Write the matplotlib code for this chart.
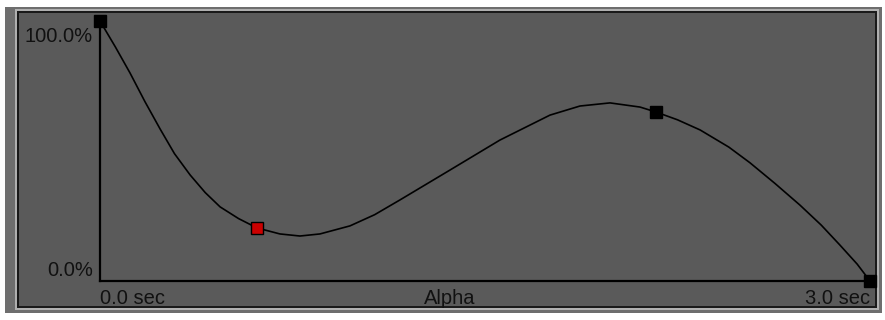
import matplotlib
matplotlib.use('Agg')
import matplotlib.pyplot as plt
from matplotlib.patches import Rectangle

# curve samples (time in sec, value in %)
curve_t = [0.0, 0.06, 0.117, 0.175, 0.234, 0.29, 0.351, 0.41, 0.468, 0.54, 0.612,
           0.701, 0.779, 0.857, 0.974, 1.07, 1.169, 1.364, 1.558, 1.753, 1.870,
           1.987, 2.104, 2.166, 2.25, 2.338, 2.45, 2.532, 2.63, 2.727, 2.81, 2.883, 2.95, 3.0]
curve_v = [100.0, 90.0, 80.0, 69.0, 58.5, 49.0, 40.8, 34.0, 28.5, 24.0, 20.4,
           18.1, 17.3, 18.1, 21.2, 25.5, 31.2, 42.7, 54.2, 63.8, 67.3,
           68.5, 66.9, 65.0, 62.0, 58.1, 51.5, 45.5, 37.5, 29.2, 21.5, 13.8, 6.5, 0.0]

# keyframes
key_t = [0.0, 0.612, 2.166, 3.0]
key_v = [100.0, 20.4, 65.0, 0.0]
key_colors = ['black', '#cc0000', 'black', 'black']

y_labels = ['100.0%', '0.0%']
x_labels = ['0.0 sec', 'Alpha', '3.0 sec']

W, H = 885, 320
fig = plt.figure(figsize=(W / 100, H / 100), dpi=100, facecolor='white')


def px_rect(x0, y0, x1, y1, color):
    fig.patches.append(Rectangle((x0 / W, 1 - y1 / H), (x1 - x0) / W, (y1 - y0) / H,
                                 transform=fig.transFigure, facecolor=color,
                                 edgecolor='none', zorder=-5))


# window frame
px_rect(5, 7, 882, 313, '#6e6e6e')
px_rect(15, 9, 879, 310, '#b0b0b0')
px_rect(17, 11, 877, 308, '#1a1a1a')
px_rect(19, 13, 875, 306, '#5a5a5a')

ax = fig.add_axes([100 / W, 1 - 281 / H, 770 / W, 260 / H])
ax.set_zorder(2)
ax.set_facecolor('none')
ax.set_xlim(0, 3.0)
ax.set_ylim(0, 100)
for s in ['top', 'right']:
    ax.spines[s].set_visible(False)
for s in ['left', 'bottom']:
    ax.spines[s].set_color('black')
    ax.spines[s].set_linewidth(1.6)
ax.set_xticks([])
ax.set_yticks([])

ax.plot(curve_t, curve_v, color='black', lw=1.2, clip_on=False)
for t, v, c in zip(key_t, key_v, key_colors):
    ax.plot(t, v, marker='s', ms=8.5, mfc=c, mec='black', mew=1.0,
            clip_on=False, zorder=5)

fp = dict(family=['Liberation Sans', 'DejaVu Sans'], fontsize=14.5, color='#111111')
fig.text(93 / W, 1 - 36 / H, y_labels[0], ha='right', va='center', **fp)
fig.text(93 / W, 1 - 270 / H, y_labels[1], ha='right', va='center', **fp)
fig.text(100 / W, 1 - 299 / H, x_labels[0], ha='left', va='center', **fp)
fig.text(450 / W, 1 - 299 / H, x_labels[1], ha='center', va='center', **fp)
fig.text(870 / W, 1 - 299 / H, x_labels[2], ha='right', va='center', **fp)

fig.savefig('out.png', dpi=100, facecolor=fig.get_facecolor())
